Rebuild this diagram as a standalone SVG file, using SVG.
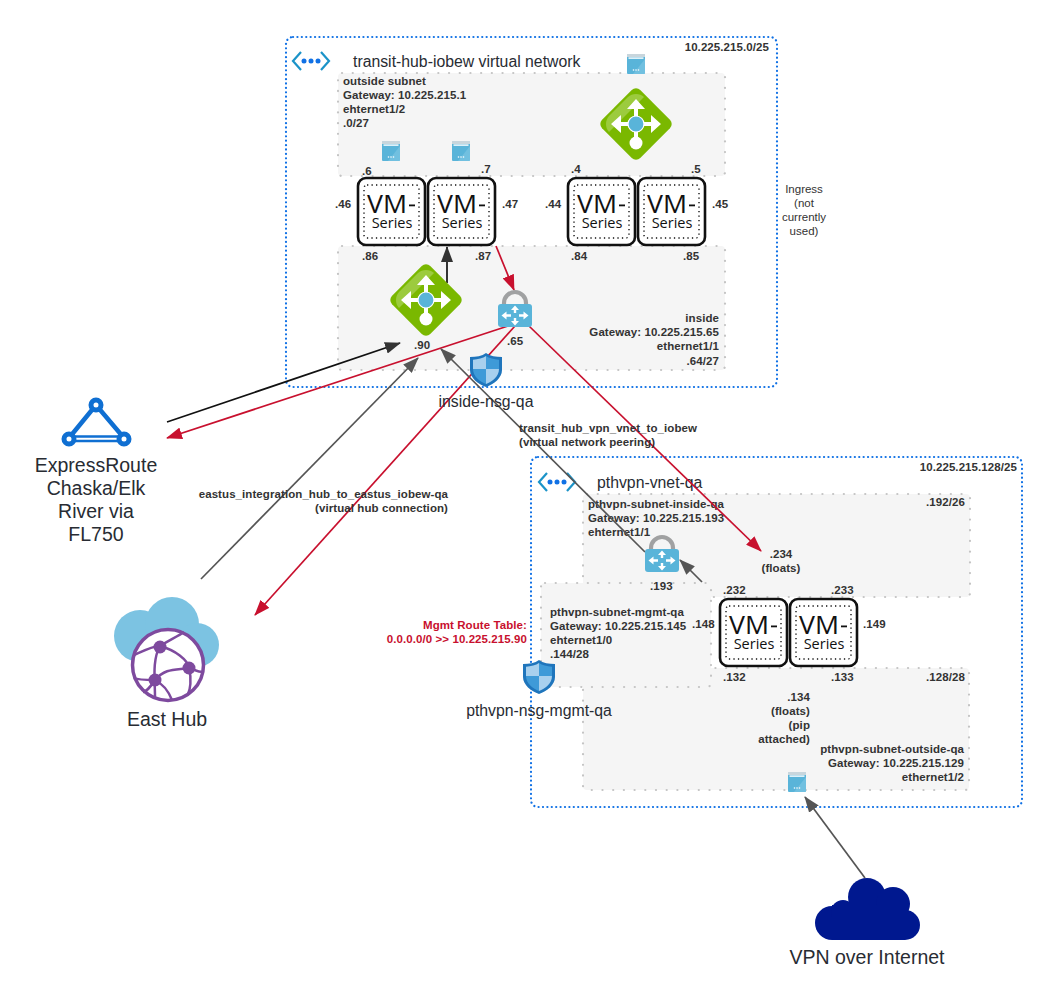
<svg xmlns="http://www.w3.org/2000/svg" width="1058" height="1002" viewBox="0 0 1058 1002">
<style>
text{font-family:"Liberation Sans",Arial,sans-serif;fill:#222}
.s{font-size:11.5px;font-weight:700;letter-spacing:.08px;fill:#333}
.e{text-anchor:end}
.m{text-anchor:middle}
.l{font-size:19.5px;fill:#282c33}
.n{font-size:15.8px;fill:#282c33}
.i{font-size:11.5px;fill:#333;text-anchor:middle}
.r{fill:#c8102e}
.vnet{fill:none;stroke:#1071e5;stroke-width:2.2;stroke-dasharray:.1 4.3;stroke-linecap:round}
.sub{fill:#f5f5f5;stroke:#c4c4c4;stroke-width:2.2;stroke-dasharray:.1 10.6;stroke-linecap:round}
.c{fill:none;stroke-width:1.7}
.red{stroke:#c8102e}.gry{stroke:#555}.blk{stroke:#111}
</style>
<defs>
<marker id="ar" viewBox="0 0 16 12" refX="15" refY="6" markerWidth="16" markerHeight="12" markerUnits="userSpaceOnUse" orient="auto"><path d="M0 0L16 6L0 12z" fill="#c8102e"/></marker>
<marker id="ag" viewBox="0 0 16 12" refX="15" refY="6" markerWidth="16" markerHeight="12" markerUnits="userSpaceOnUse" orient="auto"><path d="M0 0L16 6L0 12z" fill="#555"/></marker>
<marker id="ab" viewBox="0 0 16 12" refX="15" refY="6" markerWidth="16" markerHeight="12" markerUnits="userSpaceOnUse" orient="auto"><path d="M0 0L16 6L0 12z" fill="#333"/></marker>
<symbol id="vm" viewBox="0 0 70 70" width="70" height="70" overflow="visible">
<rect x="1" y="1" width="67" height="67" rx="8" fill="#fff" stroke="#111" stroke-width="2.6"/>
<rect x="7" y="8" width="55" height="53" rx="3" fill="none" stroke="#111" stroke-width="1.4" stroke-dasharray="1.3 3.2"/>
<text x="10" y="36" style="font-family:'Open Sans','Noto Sans',sans-serif;font-size:26px;fill:#111" textLength="40" lengthAdjust="spacingAndGlyphs">VM</text>
<rect x="52" y="27.500" width="6" height="1.800" fill="#111"/>
<text x="35" y="51" text-anchor="middle" style="font-family:'Open Sans','Noto Sans',sans-serif;font-size:14.500px;fill:#111">Series</text>
</symbol>
<symbol id="lb" viewBox="0 0 72 72" width="72" height="72" overflow="visible">
<rect x="9" y="9" width="54" height="54" rx="6" transform="rotate(45 36 36)" fill="#7ab800"/>
<path d="M36 1.500L61 26.500C66 31.500 70 36 70 36L36 36Z" fill="#96c93a" opacity="0"/>
<path d="M9 28L28 9C32 5 40 5 44 9L9 44C5 40 5 32 9 28Z" fill="#9ccb3e"/>
<path d="M36 11L27 21H34V34H21V27L11 36L21 45V38H34V50H38V38H51V45L61 36L51 27V34H38V21H45Z" fill="#fff"/>
<circle cx="36" cy="55" r="6.500" fill="#fff"/>
<circle cx="36" cy="36" r="8" fill="#59b4d9" stroke="#fff" stroke-width="1.200"/>
</symbol>
<symbol id="sn" viewBox="0 0 18 20" width="18" height="20" overflow="visible">
<rect x="0" y="0" width="18" height="20" rx="1" fill="#59b4d9"/>
<path d="M18 5V20H6Z" fill="#7cc5e2" opacity=".7"/>
<rect x="0" y="0" width="18" height="3" fill="#c8d6dd"/>
<rect x="1.500" y="3.400" width="15" height="1.400" fill="#fff"/>
<g fill="#fff"><circle cx="6.500" cy="16" r=".8"/><circle cx="9" cy="16" r=".8"/><circle cx="11.500" cy="16" r=".8"/></g>
</symbol>
<symbol id="lock" viewBox="0 0 34 36" width="34" height="36" overflow="visible">
<path d="M6 16V12A11 11 0 0 1 28 12V16" fill="none" stroke="#a0a1a2" stroke-width="4.200"/>
<rect x="0" y="13" width="34" height="23" rx="3" fill="#59b4d9"/>
<path d="M17 14.500L13 19H21ZM17 34.500L13 30H21ZM3.500 24.500L8.500 20.500V28.500ZM30.500 24.500L25.500 20.500V28.500Z" fill="#fff"/>
<path d="M15.800 18H18.200V22H15.800ZM15.800 27H18.200V31H15.800ZM8 23.300H13V25.700H8ZM21 23.300H26V25.700H21Z" fill="#fff"/>
</symbol>
<symbol id="shield" viewBox="0 0 32 34" width="32" height="34" overflow="visible">
<path d="M16 0C12 3 6 4 0 4V17C0 25 8 31 16 34C24 31 32 25 32 17V4C26 4 20 3 16 0Z" fill="#1f75bc"/>
<path d="M16 3C13 5 8 6.500 3 6.800V16H16ZM16 16V31C22 28.500 29 24 29 16Z" fill="#a8d0ee"/>
<path d="M16 3V16H29V6.800C24 6.500 19 5 16 3ZM16 16H3C3 24 10 28.500 16 31Z" fill="#3e9ad8"/>
</symbol>
<symbol id="peer" viewBox="0 0 38 20" width="38" height="20" overflow="visible">
<path d="M9 1L1 10L9 19M29 1L37 10L29 19" fill="none" stroke="#1b93c8" stroke-width="2.200"/>
<g fill="#1071e5"><circle cx="12" cy="10" r="2.500"/><circle cx="19" cy="10" r="2.500"/><circle cx="26" cy="10" r="2.500"/></g>
</symbol>
</defs>

<g id="vnet-hub"><rect class="vnet" x="286" y="37" width="491" height="350" rx="7"/>
<use href="#peer" x="292" y="51"/>
<text class="n" x="353" y="67">transit-hub-iobew virtual network</text>
<text class="s e" x="769" y="51">10.225.215.0/25</text></g>

<g id="vnet-pth"><rect class="vnet" x="531" y="457" width="491" height="350" rx="7"/>
<use href="#peer" x="538" y="472"/>
<text class="n" x="597" y="488">pthvpn-vnet-qa</text>
<text class="s e" x="1017" y="471">10.225.215.128/25</text></g>

<g id="subnet-outside"><rect class="sub" x="338" y="73" width="387" height="103" rx="4"/>
<text class="s" x="343" y="85">outside subnet</text><text class="s" x="343" y="99">Gateway: 10.225.215.1</text><text class="s" x="343" y="113">ehternet1/2</text><text class="s" x="343" y="127">.0/27</text>
<use href="#sn" x="382" y="141"/><use href="#sn" x="452" y="141"/><use href="#sn" x="627" y="54"/>
<use href="#lb" x="600" y="88"/></g>

<g id="subnet-inside"><rect class="sub" x="338" y="246" width="387" height="124" rx="4"/>
<text class="s e" x="719" y="322">inside</text><text class="s e" x="719" y="336">Gateway: 10.225.215.65</text><text class="s e" x="719" y="350">ethernet1/1</text><text class="s e" x="719" y="365">.64/27</text></g>

<g id="subnet-pth-inside"><rect class="sub" x="583" y="494" width="387" height="103" rx="4"/>
<text class="s" x="588" y="508">pthvpn-subnet-inside-qa</text><text class="s" x="588" y="522">Gateway: 10.225.215.193</text><text class="s" x="588" y="536">ehternet1/1</text>
<text class="s e" x="965" y="506">.192/26</text></g>

<g id="subnet-pth-outside"><rect class="sub" x="583" y="668" width="386" height="122" rx="4"/>
<text class="s e" x="965" y="681">.128/28</text>
<text class="s e" x="810" y="701">.134</text><text class="s e" x="810" y="715">(floats)</text><text class="s e" x="810" y="729">(pip</text><text class="s e" x="810" y="743">attached)</text>
<text class="s e" x="964" y="753">pthvpn-subnet-outside-qa</text><text class="s e" x="964" y="767">Gateway: 10.225.215.129</text><text class="s e" x="964" y="781">ethernet1/2</text>
<use href="#sn" x="788" y="772"/></g>

<g id="subnet-pth-mgmt"><rect class="sub" x="541" y="583" width="170" height="104" rx="4"/>
<text class="s" x="550" y="616">pthvpn-subnet-mgmt-qa</text><text class="s" x="550" y="630">Gateway: 10.225.215.145</text><text class="s" x="550" y="644">ehternet1/0</text><text class="s" x="550" y="658">.144/28</text></g>

<g id="connectors">
<path class="c blk" d="M167 422L400 343" marker-end="url(#ab)"/>
<path class="c red" d="M508 326L167 438" marker-end="url(#ar)"/>
<path class="c gry" d="M201 579L418 358" marker-end="url(#ag)"/>
<path class="c red" d="M515 326L255 615" marker-end="url(#ar)"/>
<path class="c red" d="M496 246L514 290" marker-end="url(#ar)"/>
<path class="c blk" d="M447 283V247" marker-end="url(#ab)"/>
<path class="c red" d="M529 326L761 551" marker-end="url(#ar)"/>
<path class="c gry" d="M645 552L441 349" marker-end="url(#ag)"/>
<path class="c gry" d="M702 582L680 560" marker-end="url(#ag)"/>
<path class="c gry" d="M865 878L805 797" marker-end="url(#ag)"/>
</g>

<g id="vm-hub-1"><use href="#vm" x="357" y="177"/><text class="s" x="362" y="175">.6</text><text class="s" x="335" y="208">.46</text><text class="s" x="362" y="260">.86</text></g>
<g id="vm-hub-2"><use href="#vm" x="427" y="177"/><text class="s" x="481" y="173">.7</text><text class="s" x="502" y="208">.47</text><text class="s" x="475" y="260">.87</text></g>
<g id="vm-hub-3"><use href="#vm" x="567" y="177"/><text class="s" x="571" y="173">.4</text><text class="s" x="545" y="208">.44</text><text class="s" x="571" y="260">.84</text></g>
<g id="vm-hub-4"><use href="#vm" x="637" y="177"/><text class="s" x="691" y="173">.5</text><text class="s" x="712" y="208">.45</text><text class="s" x="683" y="260">.85</text></g>
<g id="vm-pth-1"><use href="#vm" x="719" y="598"/><text class="s" x="723" y="594">.232</text><text class="s" x="692" y="628">.148</text><text class="s" x="723" y="681">.132</text></g>
<g id="vm-pth-2"><use href="#vm" x="789" y="598"/><text class="s" x="831" y="594">.233</text><text class="s" x="863" y="628">.149</text><text class="s" x="831" y="681">.133</text></g>

<g id="lb-inside"><use href="#lb" x="390" y="264"/><text class="s" x="414" y="349">.90</text></g>
<g id="lock-inside"><use href="#lock" x="498" y="291"/><text class="s" x="507" y="345">.65</text></g>
<g id="nsg-inside"><use href="#shield" x="470" y="353"/><text class="n m" x="486" y="407">inside-nsg-qa</text></g>
<g id="lock-pth"><use href="#lock" x="645" y="536"/><text class="s" x="650" y="590">.193</text></g>
<g id="floats"><text class="s m" x="781" y="558">.234</text><text class="s m" x="781" y="572">(floats)</text></g>
<g id="nsg-mgmt"><use href="#shield" x="523" y="660"/><text class="n m" x="539" y="716">pthvpn-nsg-mgmt-qa</text></g>

<g id="ingress"><text class="i" x="804" y="193">Ingress</text><text class="i" x="804" y="207">(not</text><text class="i" x="804" y="221">currently</text><text class="i" x="804" y="235">used)</text></g>

<g id="label-peering"><text class="s" x="519" y="432">transit_hub_vpn_vnet_to_iobew</text><text class="s" x="519" y="446">(virtual network peering)</text></g>
<g id="label-hub"><text class="s e" x="448" y="498">eastus_integration_hub_to_eastus_iobew-qa</text><text class="s e" x="448" y="512">(virtual hub connection)</text></g>
<g id="label-route"><text class="s e r" x="527" y="629">Mgmt Route Table:</text><text class="s e r" x="527" y="643">0.0.0.0/0 &gt;&gt; 10.225.215.90</text></g>

<g id="expressroute">
<path d="M96 405L69 438M96 405L124 438" fill="none" stroke="#0f6fd2" stroke-width="4.500"/><path d="M69 436.500H124M69 441H124" stroke="#0f6fd2" stroke-width="2.500"/>
<g fill="#fff" stroke="#0f6fd2" stroke-width="5"><circle cx="96" cy="405" r="5"/><circle cx="69" cy="439" r="5"/><circle cx="124" cy="439" r="5"/></g>
<text class="l m" x="96" y="472">ExpressRoute</text><text class="l m" x="96" y="495">Chaska/Elk</text><text class="l m" x="96" y="518">River via</text><text class="l m" x="96" y="541">FL750</text></g>

<g id="east-hub">
<g fill="#7cc3e2"><circle cx="140" cy="636" r="26"/><circle cx="172" cy="624" r="27"/><circle cx="197" cy="645" r="22"/><rect x="140" y="630" width="57" height="30"/></g>
<circle cx="168" cy="665" r="35.500" fill="#fff" stroke="#7e4a9e" stroke-width="3.500"/>
<g fill="none" stroke="#7e4a9e" stroke-width="2.500"><path d="M134 655C145 650 155 645 160 646C170 640 180 635 184 632"/><path d="M160 646C152 660 155 680 155 697"/><path d="M155 680C165 668 175 670 189 668C195 670 198 672 203 672"/><path d="M160 646C175 650 188 660 189 668C192 680 190 690 188 694"/><path d="M155 680C145 680 138 680 134 678M155 680C150 688 145 692 143 692"/><path d="M155 680C165 685 170 695 172 700"/></g>
<g fill="#7e4a9e"><circle cx="160" cy="647" r="6.500"/><circle cx="189" cy="668" r="6.500"/><circle cx="155" cy="680" r="6.500"/></g>
<text class="l m" x="167" y="726">East Hub</text></g>

<g id="vpn-cloud" fill="#00188f">
<circle cx="832" cy="923" r="17"/><circle cx="843" cy="912" r="12"/><circle cx="867" cy="897" r="19"/><circle cx="893" cy="904" r="17"/><circle cx="905" cy="925" r="15"/><rect x="832" y="905" width="73" height="35"/>
<text class="l m" x="867" y="964">VPN over Internet</text></g>
</svg>
